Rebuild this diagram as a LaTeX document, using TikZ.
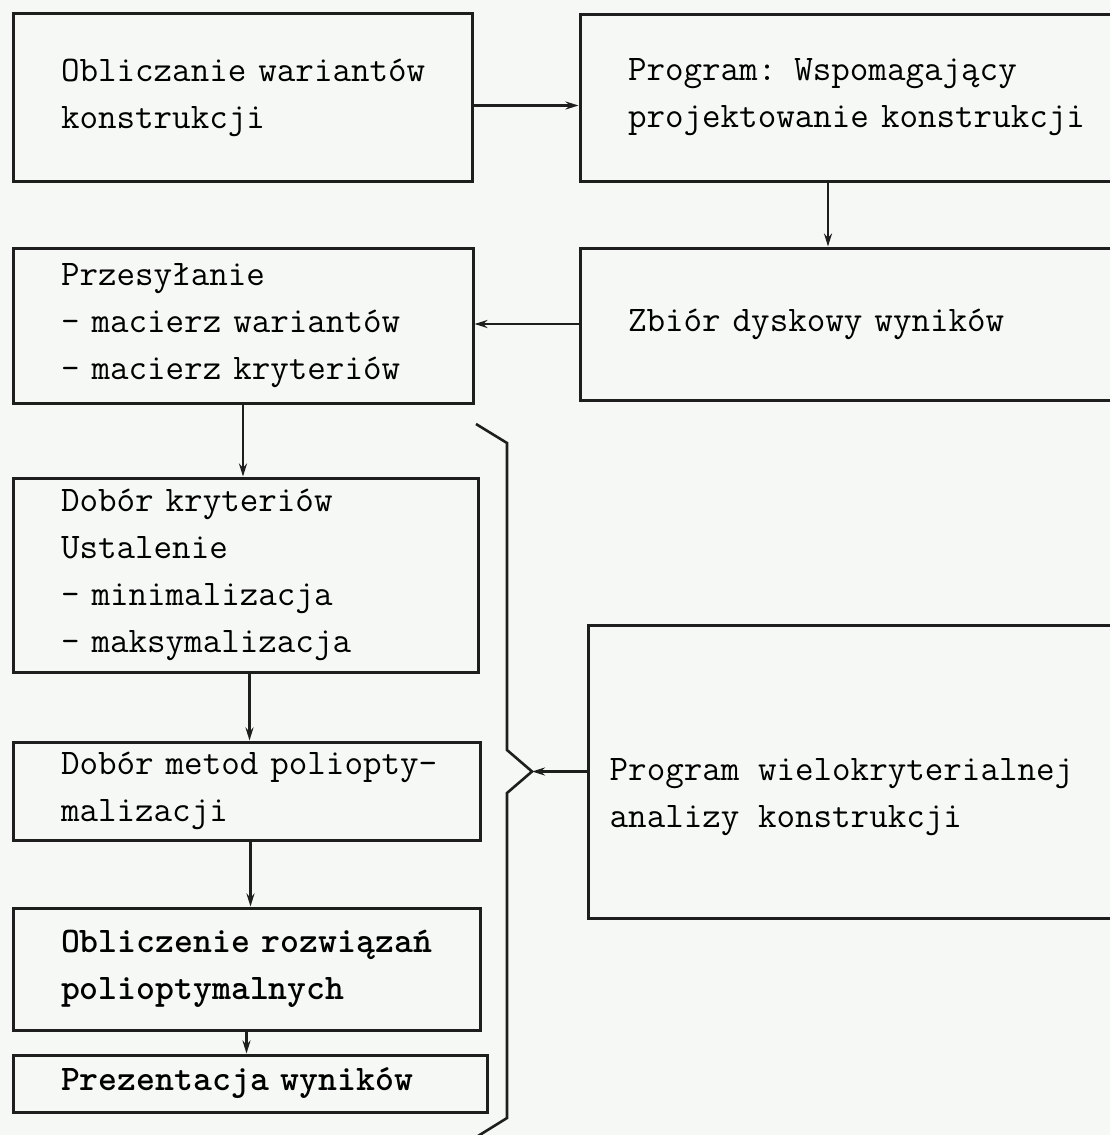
\documentclass[tikz,border=0pt]{standalone}
\usetikzlibrary{arrows.meta}
\definecolor{papier}{RGB}{246,248,246}
\definecolor{tusz}{RGB}{30,30,30}
\newcommand{\pisz}{\ttfamily\fontsize{36}{47}\selectfont\hyphenpenalty=10000}

\begin{document}
\begin{tikzpicture}[x=1pt,y=-1pt,
  blok/.style={draw=tusz, text=black, line width=3pt, rectangle, align=left,
    inner xsep=48pt, inner ysep=0pt, font=\pisz},
  strz/.style={draw=tusz, line width=2.6pt, -{Stealth[length=13pt,width=8pt]}}]
\useasboundingbox[fill=papier] (0,0) rectangle (1110,1135);
\clip (0,0) rectangle (1110,1135);
% top row
\node[blok, text width=363pt, minimum height=168pt] (obl) at (242.5,97.5) {Obliczanie~wariantów\\konstrukcji};
\node[blok, text width=504pt, minimum height=167pt] (prog) at (880,97.5) {Program: Wspomagający\\projektowanie~konstrukcji};
% second row
\node[blok, text width=364pt, minimum height=155pt] (przes) at (243,325.5) {Przesyłanie\\- macierz~wariantów\\- macierz~kryteriów};
\node[blok, text width=504pt, minimum height=152pt] (zbior) at (880,324) {Zbiór~dyskowy~wyników};
% left column
\node[blok, text width=369pt, minimum height=194pt] (kryt) at (245.5,575) {Dobór~kryteriów\\Ustalenie\\- minimalizacja\\- maksymalizacja};
\node[blok, text width=371pt, minimum height=98pt] (metod) at (246.5,791) {Dobór~metod~poliopty-\\malizacji};
\node[blok, text width=371pt, minimum height=122pt, font=\pisz\bfseries] (rozw) at (246.5,969) {Obliczenie~rozwiązań\\polioptymalnych};
\node[blok, text width=378pt, minimum height=57pt, font=\pisz\bfseries] (prez) at (250,1083.5) {Prezentacja~wyników};
% right program box
\node[blok, minimum width=592pt, minimum height=293pt] (wielo) at (884,771.5) {};
\node[font=\pisz, text=black, align=left, anchor=west, inner sep=0pt] (wieloTxt) at ([xshift=23pt,yshift=-26pt]wielo.west) {Program~wielokryterialnej\\analizy~konstrukcji};
% brace
\coordinate (klin) at (532,771.5);
\draw[tusz, line width=2.6pt] (476,424) -- (507,443) -- (507,750) -- (klin) -- (507,793) -- (507,1118) -- (478,1136);
% connectors
\path[strz] ([yshift=-8pt]obl.east) -- ([yshift=-8pt]obl.east -| prog.west);
\path[strz] ([xshift=-52pt]prog.south) -- ([xshift=-52pt]zbior.north);
\path[strz] (zbior.west) -- (zbior.west -| przes.east);
\path[strz] (przes.south) -- (przes.south |- kryt.north);
\path[strz] ([xshift=4pt]kryt.south) -- ([xshift=4pt]kryt.south |- metod.north);
\path[strz] ([xshift=4pt]metod.south) -- ([xshift=4pt]metod.south |- rozw.north);
\path[strz] (rozw.south) -- (rozw.south |- prez.north);
\path[strz] (wielo.west) -- (klin);
\end{tikzpicture}
\end{document}
